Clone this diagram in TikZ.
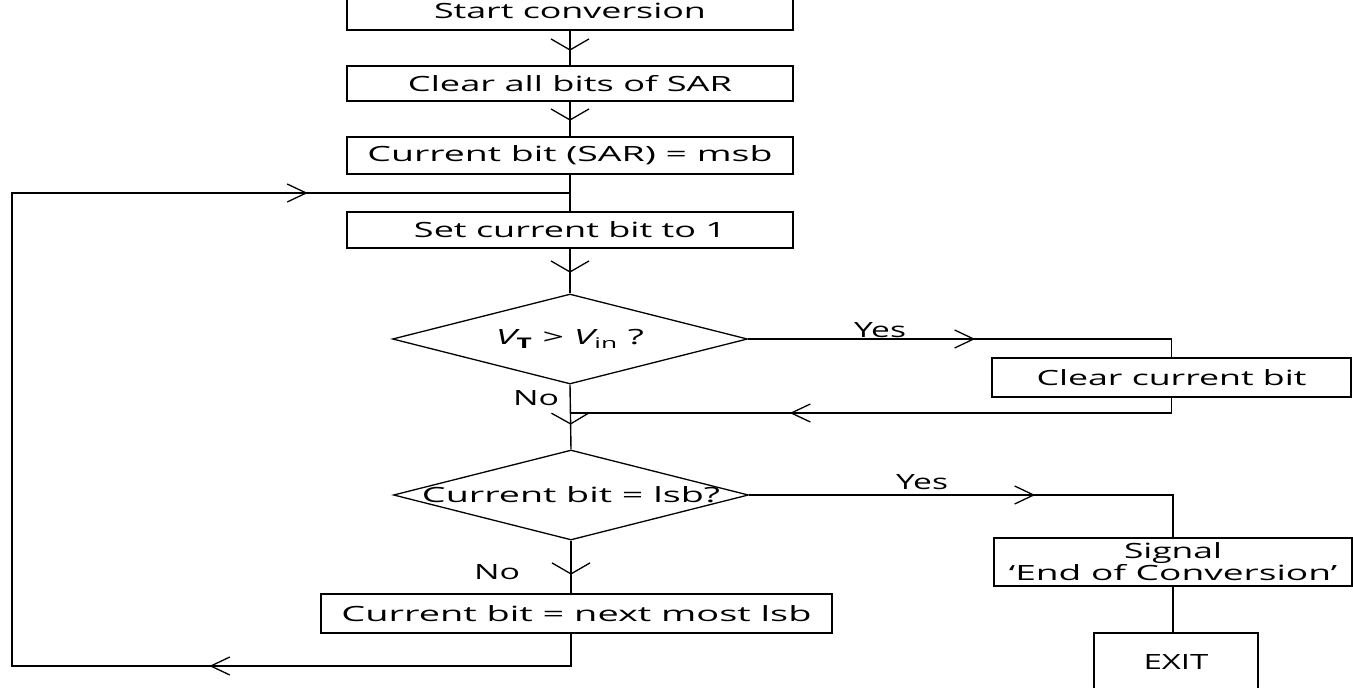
\documentclass[tikz,border=0pt]{standalone}
\usepackage{fontspec}
\setmainfont{Open Sans}
\usepackage{graphicx}
\usetikzlibrary{shapes.geometric,arrows.meta,decorations.markings}

\newcommand\fitw[2]{\resizebox{#1pt}{\height}{#2}}

\tikzset{
  box/.style={draw, line width=1.4pt, rectangle, inner sep=0pt, font=\fontsize{21}{20}\selectfont},
  dia/.style={draw, line width=1.3pt, diamond, inner sep=0pt, minimum width=355pt, minimum height=90pt},
  lbl/.style={inner sep=0pt, font=\fontsize{21}{20}\selectfont},
  conn/.style={line width=1.4pt},
  varrow/.style={postaction={decorate, decoration={markings, mark=at position #1 with {\arrow{Straight Barb[length=11pt,width=38pt,line width=1.3pt]}}}}},
  harrow/.style={postaction={decorate, decoration={markings, mark=at position #1 with {\arrow{Straight Barb[length=19pt,width=18pt,line width=1.3pt]}}}}}
}

\begin{document}
\begin{tikzpicture}[x=1pt,y=-1pt]
\fill[white] (0,0) rectangle (1353,688);
\useasboundingbox (0,0) rectangle (1353,688);

% boxes
\node[box, minimum width=446pt, minimum height=38pt] (start) at (570,11) {\fitw{272}{Start conversion}};
\node[box, minimum width=446pt, minimum height=35pt] (clrall) at (570,83.5) {\fitw{324}{Clear all bits of SAR}};
\node[box, minimum width=446pt, minimum height=37pt] (msb) at (570,155.5) {\fitw{405}{Current bit (SAR) = msb}};
\node[box, minimum width=446pt, minimum height=36pt] (setb) at (570,230) {\fitw{312}{Set current bit to 1}};
\node[dia] (d1) at (570,339) {};
\node[lbl] (d1t) at (570,339) {\fitw{148}{{\itshape V}\textsubscript{\bfseries T} > {\itshape V}\textsubscript{in} ?}};
\node[box, minimum width=359pt, minimum height=39pt] (clrcur) at (1171.5,377.5) {\fitw{270}{Clear current bit}};
\node[dia] (d2) at (571,495) {};
\node[lbl] (d2t) at (571,495) {\fitw{298}{Current bit = lsb?}};
\node[box, minimum width=511pt, minimum height=39pt] (nxt) at (576.5,613.5) {\fitw{470}{Current bit = next most lsb}};
\node[box, minimum width=358pt, minimum height=48pt, align=center] (sig) at (1173,562) {\fitw{98}{Signal}\\\fitw{328}{‘End of Conversion’}};
\node[box, minimum width=164pt, minimum height=58pt] (exit) at (1176,662) {\fitw{65}{EXIT}};

% labels
\node[lbl] (yes1) at (880,330) {\fitw{52}{Yes}};
\node[lbl] (yes2) at (922,482) {\fitw{52}{Yes}};
\node[lbl] (no1) at (536,398) {\fitw{46}{No}};
\node[lbl] (no2) at (497,572) {\fitw{46}{No}};

% coordinates
\coordinate (join) at (570,193);
\coordinate (ret) at (570,413);
\coordinate (bl) at (12,666);
\coordinate (tl) at (12,193);

% connectors
\draw[conn, varrow=20pt] (start.south) -- (clrall.north);
\draw[conn, varrow=19pt] (clrall.south) -- (msb.north);
\draw[conn] (msb.south) -- (setb.north);
\draw[conn, varrow=24pt] (setb.south) -- (d1.north);
\draw[conn, harrow=227pt] (d1.east) -| (clrcur.north);
\draw[conn, harrow=397pt] (clrcur.south) |- (ret);
\draw[conn, varrow=40pt] (d1.south) -- (d2.north);
\draw[conn, harrow=286pt] (d2.east) -| (sig.north);
\draw[conn, varrow=34pt] (d2.south) -- (d2.south |- nxt.north);
\draw[conn] (sig.south) -- (sig.south |- exit.north);
\draw[conn, harrow=394pt, harrow=1360pt] (d2.south |- nxt.south) -- (d2.south |- bl) -- (bl) -- (tl) -- (join);
\end{tikzpicture}
\end{document}
